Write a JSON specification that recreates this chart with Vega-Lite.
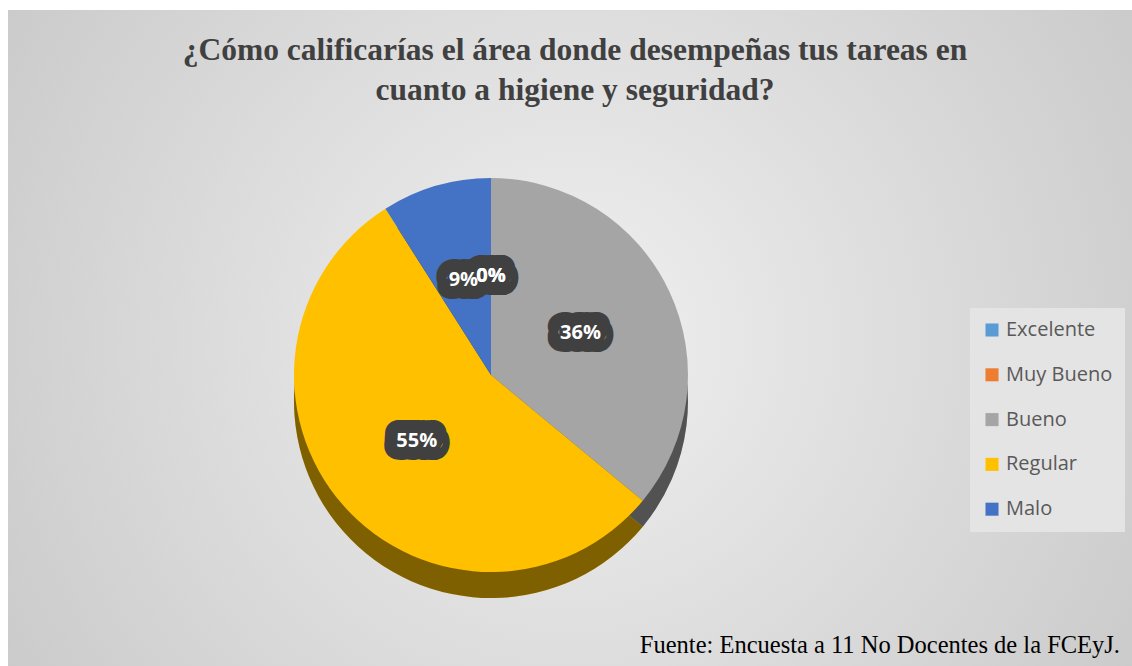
{
  "$schema": "https://vega.github.io/schema/vega-lite/v6.json",
  "width": 1124,
  "height": 656,
  "autosize": {"type": "none"},
  "padding": {"left": 8, "top": 10, "right": 0, "bottom": 0},
  "background": "white",
  "title": {
    "text": ["¿Cómo calificarías el área donde desempeñas tus tareas en", "cuanto a higiene y seguridad?"],
    "orient": "top",
    "anchor": "middle",
    "offset": -96,
    "dx": 5,
    "font": "Liberation Serif",
    "fontSize": 31.5,
    "fontWeight": "bold",
    "color": "#404040",
    "lineHeight": 40
  },
  "layer": [
    {
      "data": {"values": [{"fondo": "area"}]},
      "mark": {
        "type": "rect",
        "x": 0, "x2": {"expr": "width"}, "y": 0, "y2": {"expr": "height"},
        "fill": {
          "gradient": "radial",
          "x1": 0.5, "y1": 0.5, "r1": 0,
          "x2": 0.5, "y2": 0.5, "r2": 0.72,
          "stops": [
            {"offset": 0, "color": "#f0f0f0"},
            {"offset": 1, "color": "#c2c2c2"}
          ]
        }
      },
      "encoding": {}
    },
    {
      "data": {
        "values": [
          {"categoria": "Excelente", "porcentaje": 0, "orden": 1},
          {"categoria": "Muy Bueno", "porcentaje": 0, "orden": 2},
          {"categoria": "Bueno", "porcentaje": 0.36, "orden": 3},
          {"categoria": "Regular", "porcentaje": 0.55, "orden": 4},
          {"categoria": "Malo", "porcentaje": 0.09, "orden": 5}
        ]
      },
      "encoding": {
        "theta": {"field": "porcentaje", "type": "quantitative", "stack": true},
        "order": {"field": "orden", "type": "quantitative"},
        "color": {
          "field": "categoria",
          "type": "nominal",
          "scale": {
            "domain": ["Excelente", "Muy Bueno", "Bueno", "Regular", "Malo"],
            "range": ["#5B9BD5", "#ED7D31", "#A5A5A5", "#FFC000", "#4472C4"]
          },
          "legend": {
            "title": null,
            "orient": "none",
            "legendX": 962,
            "legendY": 298,
            "symbolType": "square",
            "symbolSize": 170,
            "symbolStrokeWidth": 0,
            "labelFont": "Open Sans",
            "labelFontSize": 20,
            "labelColor": "#595959",
            "labelOffset": 4,
            "rowPadding": 24.8,
            "padding": 12,
            "fillColor": "#e4e4e4"
          }
        }
      },
      "layer": [
        {
          "mark": {"type": "arc", "outerRadius": 197, "x": {"expr": "width*0.4297"}, "y": {"expr": "height*0.5565+26"}}
        },
        {
          "mark": {"type": "arc", "outerRadius": 197, "x": {"expr": "width*0.4297"}, "y": {"expr": "height*0.5565+26"}, "opacity": 0.5},
          "encoding": {"color": {"value": "black"}}
        },
        {
          "mark": {"type": "arc", "outerRadius": 197, "x": {"expr": "width*0.4297"}, "y": {"expr": "height*0.5565"}}
        },
        {
          "mark": {"type": "text", "radius": 99, "x": {"expr": "width*0.4297"}, "y": {"expr": "height*0.5565"}, "font": "Open Sans", "fontWeight": "bold", "fontSize": 20, "stroke": "#404040", "strokeWidth": 26, "strokeJoin": "round"},
          "encoding": {"text": {"field": "porcentaje", "format": ".0%"}, "color": {"value": "#404040"}}
        },
        {
          "mark": {"type": "text", "radius": 99, "x": {"expr": "width*0.4297"}, "y": {"expr": "height*0.5565"}, "font": "Open Sans", "fontWeight": "bold", "fontSize": 20},
          "encoding": {"text": {"field": "porcentaje", "format": ".0%"}, "color": {"value": "white"}}
        }
      ]
    },
    {
      "data": {"values": [{"nota": "Fuente: Encuesta a 11 No Docentes de la FCEyJ."}]},
      "mark": {"type": "text", "x": {"expr": "width-12"}, "y": {"expr": "height-13"}, "align": "right", "baseline": "alphabetic", "font": "Liberation Serif", "fontSize": 24.5, "color": "black"},
      "encoding": {"text": {"field": "nota"}}
    }
  ],
  "config": {
    "view": {"stroke": null}
  }
}
